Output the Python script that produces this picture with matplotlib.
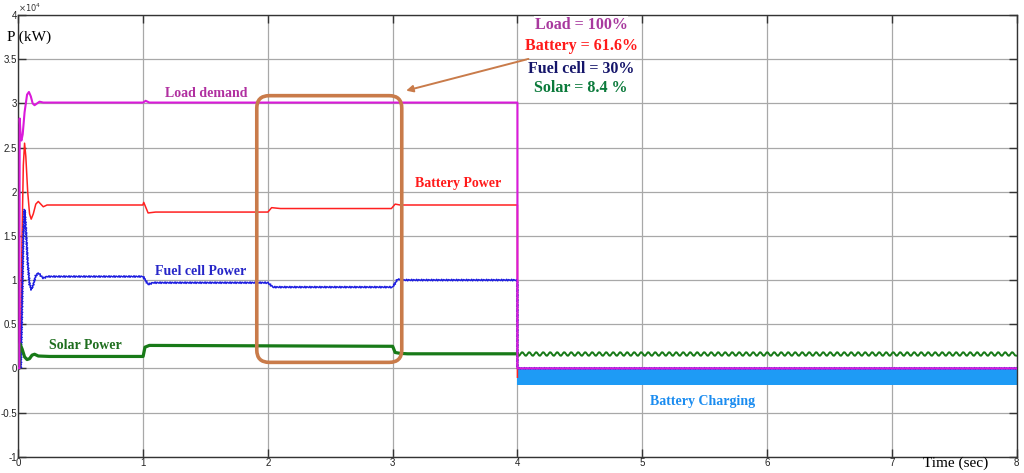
import matplotlib.pyplot as plt
from matplotlib.patches import FancyBboxPatch

# Dados (potencia em unidades de 1e4 kW)
load_t = [0, 0.008, 0.011, 0.014, 0.02, 0.025, 0.035, 0.05, 0.07, 0.085, 0.1, 0.115, 0.13,
          0.15, 0.17, 0.2, 0.25, 1.0, 1.02, 1.05, 4.0, 4.0, 8.0]
load_p = [0, 0, 2.83, 2.75, 2.6, 2.58, 2.65, 2.9, 3.1, 3.13, 3.08, 3.0, 2.98,
          3.0, 3.02, 3.01, 3.01, 3.01, 3.03, 3.01, 3.01, 0, 0]

battery_t = [0, 0.015, 0.02, 0.03, 0.04, 0.05, 0.06, 0.075, 0.09, 0.103, 0.12, 0.14, 0.16,
             0.18, 0.2, 0.23, 0.998, 1.005, 1.04, 1.1,
             1.99, 2.0, 2.03, 2.1, 2.99, 3.02, 3.06, 4.0, 4.0]
battery_p = [0, 0, 0.5, 1.5, 2.3, 2.55, 2.4, 2.0, 1.75, 1.69, 1.75, 1.86, 1.89,
             1.86, 1.83, 1.85, 1.85, 1.88, 1.76, 1.77,
             1.77, 1.77, 1.82, 1.81, 1.81, 1.86, 1.85, 1.85, -0.1]

charge_t = [4.0, 8.0]
charge_hi = [0.0, 0.0]
charge_lo = [-0.19, -0.19]

fuel_t = [0, 0.02, 0.03, 0.04, 0.05, 0.06, 0.075, 0.09, 0.106, 0.12, 0.14, 0.16, 0.18, 0.2,
          0.23, 1.0, 1.04, 1.08, 2.0, 2.04, 3.0, 3.04, 3.08, 4.0, 4.0, 8.0]
fuel_p = [0, 0, 0.7, 1.5, 1.80, 1.6, 1.2, 0.95, 0.89, 0.95, 1.05, 1.08, 1.05, 1.02,
          1.04, 1.04, 0.95, 0.97, 0.97, 0.92, 0.92, 1.01, 1.00, 1.00, 0, 0]

solar_t = [0, 0.005, 0.012, 0.03, 0.05, 0.07, 0.09, 0.11, 0.13, 0.16, 0.25, 1.0, 1.015, 1.05,
           2.0, 3.0, 3.02, 3.06, 3.12, 4.0]
solar_p = [0, 0, 0.28, 0.22, 0.13, 0.10, 0.11, 0.15, 0.16, 0.14, 0.135, 0.135, 0.24, 0.26,
           0.255, 0.25, 0.18, 0.17, 0.165, 0.165]
solar_ripple_t = [4.0, 8.0]
solar_ripple_p = [0.165, 0.165]

x_ticks = [0, 1, 2, 3, 4, 5, 6, 7, 8]
y_ticks = [-1, -0.5, 0, 0.5, 1, 1.5, 2, 2.5, 3, 3.5, 4]
y_tick_labels = ['-1', '-0.5', '0', '0.5', '1', '1.5', '2', '2.5', '3', '3.5', '4']

shares = ['Load = 100%', 'Battery = 61.6%', 'Fuel cell = 30%', 'Solar = 8.4 %']
share_colors = ['#A8399E', '#FF1A1A', '#15156A', '#0B7A3B']

serif = 'Liberation Serif'
box_color = '#C97B4A'

fig = plt.figure(figsize=(10.24, 4.73), dpi=100)
ax = fig.add_axes([0.0179, 0.0345, 0.9748, 0.9335])

ax.grid(True, color='#A8A8A8', linewidth=0.9)
ax.set_axisbelow(True)

ax.fill_between(charge_t, charge_lo, charge_hi, color='#1E9BF5', linewidth=0, zorder=2)
ax.plot(battery_t, battery_p, color='#FF2020', linewidth=1.1, zorder=3)
fuel_line, = ax.plot(fuel_t, fuel_p, color='#1C1CE0', linewidth=1.1, zorder=4)
fuel_line.set_sketch_params(scale=0.8, length=2.5, randomness=1)
ax.plot(solar_t, solar_p, color='#187A18', linewidth=2.3, zorder=5)
ripple, = ax.plot(solar_ripple_t, solar_ripple_p, color='#187A18', linewidth=1.4, zorder=5)
ripple.set_sketch_params(scale=1.8, length=7, randomness=1)
ax.plot(load_t, load_p, color='#DA1ADA', linewidth=1.5, zorder=6)

# rotulos das curvas
ax.text(1.506, 3.11, 'Load demand', color='#B02FA0', fontsize=10, fontweight='bold',
        fontfamily=serif, ha='center', va='center', zorder=7)
ax.text(3.525, 2.09, 'Battery Power', color='#FF1A1A', fontsize=10, fontweight='bold',
        fontfamily=serif, ha='center', va='center', zorder=7)
ax.text(1.457, 1.095, 'Fuel cell Power', color='#2626C8', fontsize=10, fontweight='bold',
        fontfamily=serif, ha='center', va='center', zorder=7)
ax.text(0.535, 0.257, 'Solar Power', color='#1E6E1E', fontsize=10, fontweight='bold',
        fontfamily=serif, ha='center', va='center', zorder=7)
ax.text(5.48, -0.377, 'Battery Charging', color='#1A8CF0', fontsize=10, fontweight='bold',
        fontfamily=serif, ha='center', va='center', zorder=7)

# caixa e seta
box = FancyBboxPatch((1.911, 0.068), 3.073 - 1.911, 3.088 - 0.068,
                     boxstyle='round,pad=0,rounding_size=0.1', mutation_aspect=1.413,
                     facecolor='none', edgecolor=box_color, linewidth=2.6, zorder=8)
ax.add_patch(box)
ax.annotate('', xy=(3.108, 3.145), xytext=(4.088, 3.504),
            arrowprops=dict(arrowstyle='-|>', color=box_color, linewidth=1.4,
                            mutation_scale=10, shrinkA=0, shrinkB=0), zorder=8)

for txt, col, yy in zip(shares, share_colors, [3.89, 3.65, 3.39, 3.17]):
    ax.text(4.51, yy, txt, color=col, fontsize=11.5, fontweight='bold', fontfamily=serif,
            ha='center', va='center', zorder=9,
            bbox=dict(facecolor='white', edgecolor='none', pad=0.5))

ax.set_xlim(0, 8)
ax.set_ylim(-1, 4)
ax.set_xticks(x_ticks)
ax.set_xticklabels([str(v) for v in x_ticks])
ax.set_yticks(y_ticks)
ax.set_yticklabels(y_tick_labels)
ax.tick_params(direction='in', length=6, width=1, labelsize=7, pad=1,
               top=True, right=True, color='#333333', labelcolor='#222222')
for lab in ax.get_xticklabels() + ax.get_yticklabels():
    lab.set_fontfamily('Liberation Sans')
for sp in ax.spines.values():
    sp.set_color('#333333')
    sp.set_linewidth(1.0)

ax.text(0.0, 1.002, r'$\times10^{4}$', transform=ax.transAxes, fontsize=6,
        ha='left', va='bottom', color='#333333')
ax.text(0.086, 3.745, 'P (kW)', fontsize=11, fontfamily=serif, ha='center', va='center')
ax.text(7.51, -1.0, 'Time (sec)', fontsize=11, fontfamily=serif, ha='center', va='top')

plt.savefig('out.png', dpi=100)
plt.close()
